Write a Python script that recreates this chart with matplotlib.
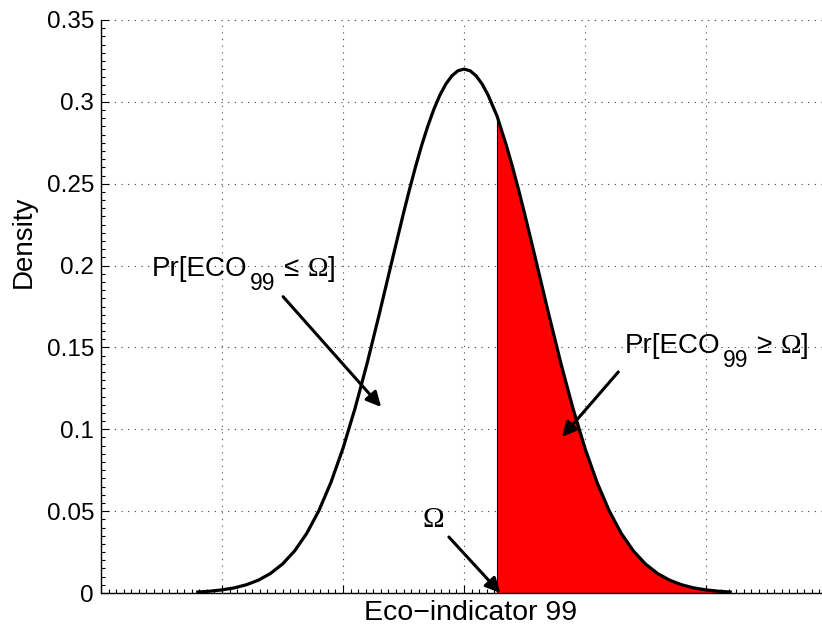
import numpy as np
import matplotlib
matplotlib.use('Agg')
import matplotlib.pyplot as plt
from matplotlib.ticker import MultipleLocator, AutoMinorLocator

plt.rcParams['font.family'] = ['Liberation Sans', 'DejaVu Sans']
plt.rcParams['mathtext.fontset'] = 'custom'
plt.rcParams['mathtext.rm'] = 'Liberation Sans'
plt.rcParams['mathtext.it'] = 'Liberation Sans:italic'
plt.rcParams['mathtext.bf'] = 'Liberation Serif'

# density curve (x in arbitrary units, grid every 2)
eco_x = [1.6, 1.8, 2.0, 2.2, 2.4, 2.6, 2.8, 3.0, 3.2, 3.4, 3.6, 3.8, 4.0,
         4.2, 4.4, 4.6, 4.8, 5.0, 5.1, 5.2, 5.3, 5.4, 5.5, 5.6, 5.7, 5.8,
         5.9, 6.0, 6.1, 6.2, 6.3, 6.4, 6.5, 6.55, 6.6, 6.7, 6.8, 6.9, 7.0,
         7.2, 7.4, 7.6, 7.8, 8.0, 8.2, 8.4, 8.6, 8.8, 9.0, 9.2, 9.4, 9.6,
         9.8, 10.0, 10.2, 10.4]
density = [0.0006, 0.0011, 0.0019, 0.0031, 0.0050, 0.0078, 0.0119, 0.0177,
           0.0257, 0.0364, 0.0502, 0.0675, 0.0884, 0.1129, 0.1405, 0.1704,
           0.2014, 0.2320, 0.2466, 0.2605, 0.2734, 0.2850, 0.2953, 0.3040,
           0.3109, 0.3159, 0.3190, 0.3200, 0.3190, 0.3159, 0.3109, 0.3040,
           0.2953, 0.2910, 0.2850, 0.2734, 0.2605, 0.2466, 0.2320, 0.2014,
           0.1704, 0.1405, 0.1129, 0.0884, 0.0675, 0.0502, 0.0364, 0.0257,
           0.0177, 0.0119, 0.0078, 0.0050, 0.0031, 0.0019, 0.0011, 0.0006]
omega = 6.55
y_ticks = [0, 0.05, 0.1, 0.15, 0.2, 0.25, 0.3, 0.35]
y_ticklabels = ['0', '0.05', '0.1', '0.15', '0.2', '0.25', '0.3', '0.35']

x = np.array(eco_x)
y = np.array(density)

fig = plt.figure(figsize=(8.22, 6.38), dpi=100)
ax = fig.add_axes([101/822, 45/638, 726/822, 573/638])

tail = x >= omega
ax.fill_between(x[tail], 0, y[tail], color='#ff0000', lw=0, zorder=2)
ax.plot([omega, omega], [0, y[x == omega][0]], color='k', lw=0.8, zorder=3)
ax.plot(x, y, color='k', lw=2.3, zorder=4)

ax.set_xlim(0, 12)
ax.set_ylim(0, 0.35)
ax.xaxis.set_major_locator(MultipleLocator(2))
ax.xaxis.set_minor_locator(AutoMinorLocator(16))
ax.set_xticklabels([])
ax.set_yticks(y_ticks)
ax.set_yticklabels(y_ticklabels)
ax.yaxis.set_minor_locator(AutoMinorLocator(10))
ax.tick_params(which='both', direction='in', labelsize=17.5, width=0.8)
ax.tick_params(which='major', length=6, pad=5)
ax.tick_params(which='minor', length=3)
ax.tick_params(axis='x', which='both', top=False)
ax.tick_params(axis='y', which='both', right=False)
for s in ['top', 'right']:
    ax.spines[s].set_visible(False)
for s in ['left', 'bottom']:
    ax.spines[s].set_linewidth(1.0)
ax.grid(True, which='major', color='0.25', linestyle=(0, (1, 5)), lw=0.8)
ax.set_axisbelow(True)

ax.set_xlabel('Eco\u2212indicator 99', fontsize=20.5)
ax.xaxis.set_label_coords((471 - 101) / 726, -0.012)
ax.xaxis.label.set_va('top')
ax.set_ylabel('Density', fontsize=20)
ax.yaxis.label.set(va='center', ha='center')
ax.yaxis.set_label_coords((24 - 101) / 726, (593 - 242) / 573)

arrow = dict(arrowstyle='-|>', color='k', lw=2.2, mutation_scale=22,
             shrinkA=0, shrinkB=0)
ax.annotate('', xy=(4.63, 0.1136), xytext=(3.01, 0.181), arrowprops=arrow)
ax.annotate('', xy=(7.62, 0.0953), xytext=(8.55, 0.135), arrowprops=arrow)
ax.annotate('', xy=(6.6, 0.0), xytext=(5.75, 0.0342), arrowprops=arrow,
            annotation_clip=False)


def prob_label(xpos, ypos, rel):
    # MATLAB-style label: large, low subscript
    t1 = ax.text(xpos, ypos, 'Pr[ECO', fontsize=20, ha='left', va='baseline')
    t2 = ax.annotate('99', xy=(1, 0), xycoords=t1, xytext=(1.5, -5.5),
                     textcoords='offset points', fontsize=16.5,
                     ha='left', va='baseline')
    ax.annotate(r'$' + rel + r'\,\mathbf{\Omega}$]', xy=(1, 0),
                xycoords=(t2, t1), xytext=(2.5, 4.3),
                textcoords='offset points', fontsize=20,
                ha='left', va='baseline')


prob_label(0.84, 0.1936, r'\leq')
prob_label(8.66, 0.1466, r'\geq')
ax.text(5.49, 0.0446, '\u03a9', fontsize=21, family='Liberation Serif',
        ha='center', va='center')

fig.savefig('out.png', dpi=100)
